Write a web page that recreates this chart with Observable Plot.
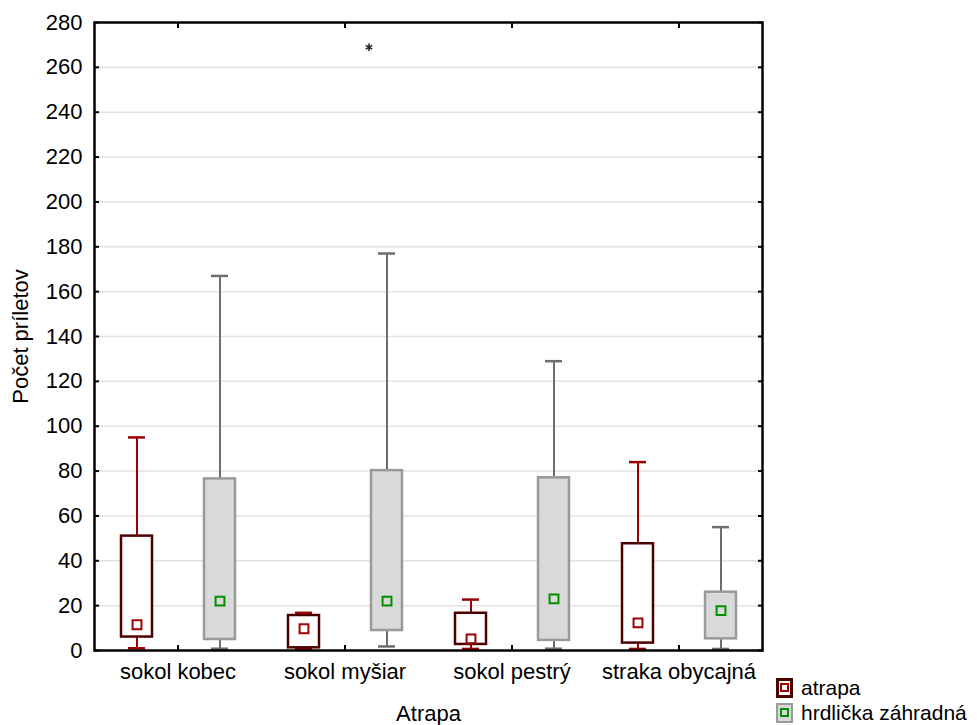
<!DOCTYPE html>
<html>
<head>
<meta charset="utf-8">
<script src="https://cdn.jsdelivr.net/npm/d3@7"></script>
<script src="https://cdn.jsdelivr.net/npm/@observablehq/plot@0.6"></script>
<style>
  html, body { margin: 0; padding: 0; background: #fff; }
  #wrap { position: relative; width: 977px; height: 725px; font-family: "Liberation Sans", Arial, sans-serif; }
  #legend { position: absolute; left: 776px; top: 675px; font-size: 21px; color: #000; }
  .row { display: flex; align-items: center; height: 25px; }
  .sw { box-sizing: border-box; width: 17px; height: 20px; display: flex; align-items: center; justify-content: center; margin-right: 8px; }
  .sw i { box-sizing: border-box; display: block; width: 9px; height: 9px; border: 2px solid; }
</style>
</head>
<body>
<div id="wrap">
  <div id="chart"></div>
  <div id="legend"></div>
</div>
<script>
// ---- data ----
const categories = ["sokol kobec", "sokol myšiar", "sokol pestrý", "straka obycajná"];
const groups = ["atrapa", "hrdlička záhradná"];

const atrapaMin = [1, 0.8, 0.7, 0.7];
const atrapaQ1  = [6, 1.2, 2.7, 3.3];
const atrapaMed = [11.5, 9.7, 5.2, 12.3];
const atrapaQ3  = [51, 15.6, 16.6, 47.6];
const atrapaMax = [95, 16.8, 22.7, 84];

const hrdMin = [0.8, 1.8, 0.8, 0.7];
const hrdQ1  = [4.9, 8.9, 4.5, 5.2];
const hrdMed = [22, 22, 23, 17.8];
const hrdQ3  = [76.5, 80.2, 77, 26];
const hrdMax = [167, 177, 129, 55];

const outlierCategory = ["sokol myšiar"];
const outlierGroup = ["hrdlička záhradná"];
const outlierValue = [269];

const yTicks = [0, 20, 40, 60, 80, 100, 120, 140, 160, 180, 200, 220, 240, 260, 280];
const yGrid = [20, 40, 60, 80, 100, 120, 140, 160, 180, 200, 220, 240, 260];

// ---- table ----
const rows = [];
categories.forEach((c, i) => {
  rows.push({cat: c, grp: groups[0], min: atrapaMin[i], q1: atrapaQ1[i], med: atrapaMed[i], q3: atrapaQ3[i], max: atrapaMax[i]});
  rows.push({cat: c, grp: groups[1], min: hrdMin[i], q1: hrdQ1[i], med: hrdMed[i], q3: hrdQ3[i], max: hrdMax[i]});
});
const outliers = outlierValue.map((v, i) => ({cat: outlierCategory[i], grp: outlierGroup[i], v}));

const boxStroke = {"atrapa": "#4d0000", "hrdlička záhradná": "#9a9a9a"};
const boxFill = {"atrapa": "#ffffff", "hrdlička záhradná": "#d9d9d9"};
const whisk = {"atrapa": "#990000", "hrdlička záhradná": "#6e6e6e"};
const medCol = {"atrapa": "#a00000", "hrdlička záhradná": "#009000"};

const plot = Plot.plot({
  width: 977,
  height: 725,
  marginTop: 22,
  marginBottom: 75,
  marginLeft: 92,
  marginRight: 214,
  style: {fontFamily: "'Liberation Sans', Arial, sans-serif", fontSize: "22px", color: "#000", background: "#fff"},
  fx: {domain: categories, padding: 0, label: null},
  x: {domain: groups, padding: 0, axis: null},
  y: {domain: [0, 280], axis: null},
  marks: [
    Plot.gridY(yGrid, {stroke: "#e2e2e2", strokeOpacity: 1, strokeWidth: 1.5}),
    Plot.ruleX(rows, {fx: "cat", x: "grp", y1: "min", y2: "max", stroke: d => whisk[d.grp], strokeWidth: 2}),
    Plot.tickY(rows, {fx: "cat", x: "grp", y: "max", stroke: d => whisk[d.grp], strokeWidth: 2.5, inset: 33}),
    Plot.tickY(rows, {fx: "cat", x: "grp", y: "min", stroke: d => whisk[d.grp], strokeWidth: 2.5, inset: 33}),
    Plot.rect(rows, {fx: "cat", x: "grp", y1: "q1", y2: "q3", fill: d => boxFill[d.grp], stroke: d => boxStroke[d.grp], strokeWidth: 2.5, insetLeft: 26, insetRight: 26}),
    Plot.dot(rows, {fx: "cat", x: "grp", y: "med", symbol: "square", r: 5, stroke: d => medCol[d.grp], fill: "none", strokeWidth: 2}),
    Plot.dot(outliers, {fx: "cat", x: "grp", y: "v", symbol: "asterisk", r: 3.5, stroke: "#222", strokeWidth: 1.5, dx: -18}),
    Plot.axisY(yTicks, {anchor: "left", tickSize: -5, tickPadding: 17, strokeWidth: 2, label: "Počet príletov", labelArrow: "none", labelAnchor: "center", labelOffset: 82}),
    Plot.axisY(yTicks, {anchor: "right", tickSize: -5, strokeWidth: 2, tickFormat: () => "", label: null}),
    Plot.axisFx({anchor: "bottom", tickSize: -5, tickPadding: 18, strokeWidth: 2, label: "Atrapa", labelArrow: "none", labelAnchor: "center", labelOffset: 70}),
    Plot.axisFx({anchor: "top", tickSize: -5, strokeWidth: 2, tickFormat: () => "", label: null}),
    Plot.frame({facet: "super", stroke: "#000", strokeWidth: 2.5})
  ]
});
document.getElementById("chart").appendChild(plot);

// ---- legend ----
const legend = document.getElementById("legend");
groups.forEach(g => {
  const row = document.createElement("div");
  row.className = "row";
  const sw = document.createElement("span");
  sw.className = "sw";
  sw.style.background = boxFill[g];
  sw.style.border = (g === "atrapa" ? "3px" : "2px") + " solid " + boxStroke[g];
  const inner = document.createElement("i");
  inner.style.borderColor = medCol[g];
  sw.appendChild(inner);
  const t = document.createElement("span");
  t.textContent = g;
  row.appendChild(sw);
  row.appendChild(t);
  legend.appendChild(row);
});
</script>
</body>
</html>
